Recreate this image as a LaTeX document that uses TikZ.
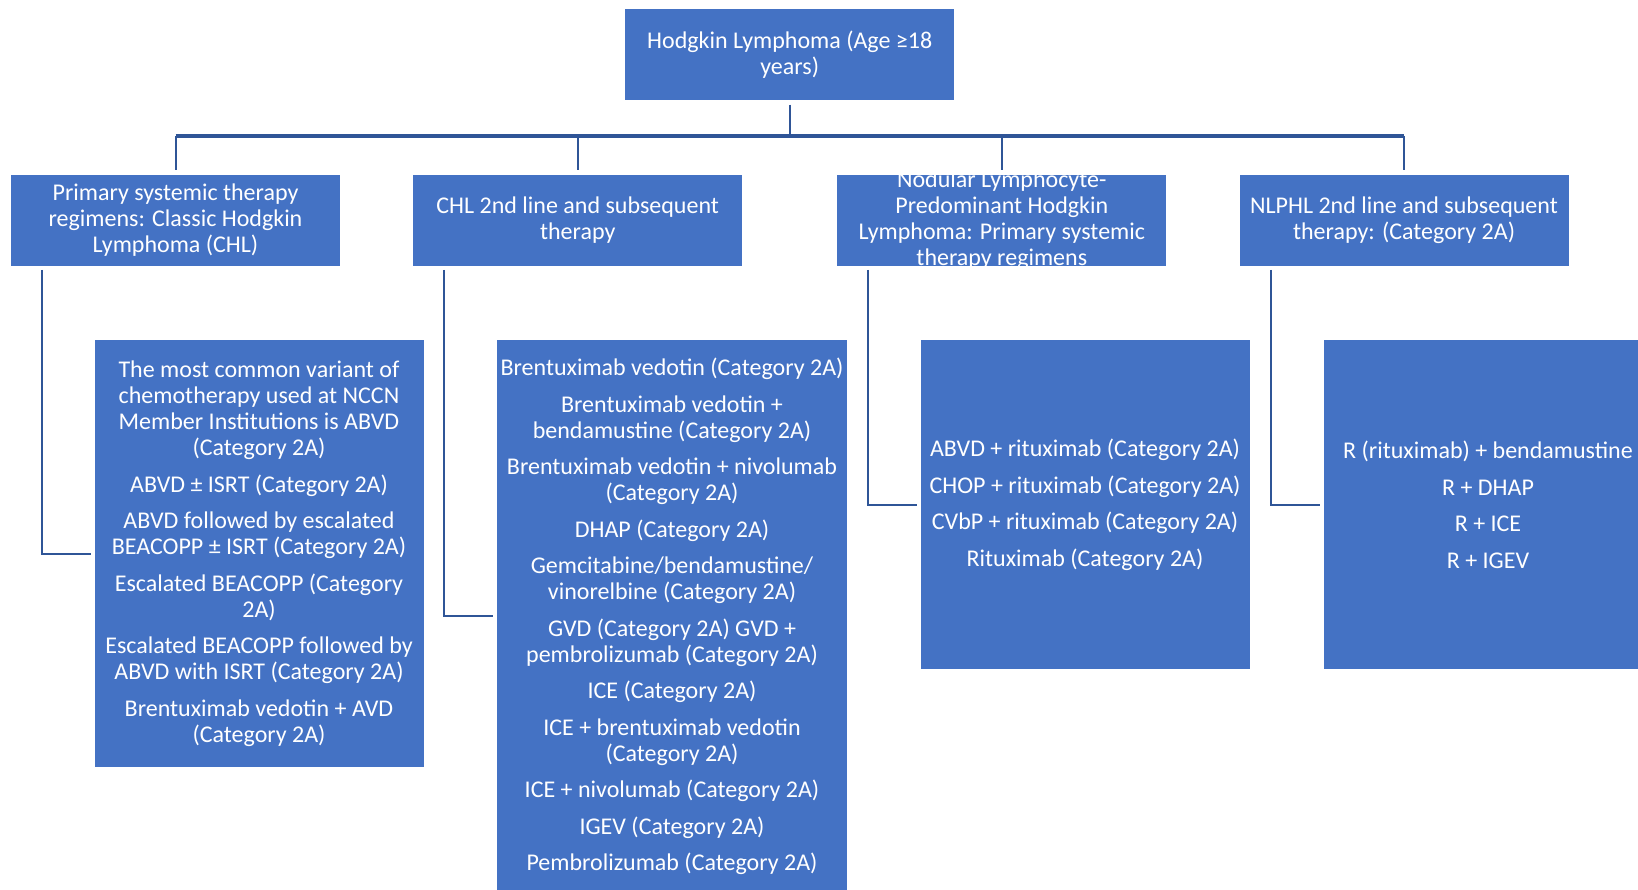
\documentclass[tikz,border=0pt]{standalone}
\usepackage{fontspec}
\setmainfont{Carlito}
\usetikzlibrary{calc}
\definecolor{boxblue}{HTML}{4472C4}
\definecolor{linkblue}{HTML}{2F5597}
\tikzset{
  box/.style={rectangle, fill=boxblue, draw=white, line width=0.8pt, text=white, align=center, inner sep=0pt, font=\fontsize{24}{26}\selectfont},
  txt/.style={text=white, align=center, inner sep=0pt, font=\fontsize{24}{26}\selectfont},
  hdr/.style={minimum width=330pt, minimum height=92pt},
  conn/.style={draw=linkblue, line width=2pt},
  busline/.style={draw=linkblue, line width=3.2pt},
}
\begin{document}
\begin{tikzpicture}[x=1pt, y=-1pt]
\fill[white] (0,0) rectangle (1638,890);
\useasboundingbox (0,0) rectangle (1638,890);
% top
\node[box, hdr] (top) at (789.7,54.3) {Hodgkin Lymphoma (Age ≥18\\years)};
% level 2
\node[box, hdr] (b1) at (175.5,220.4) {Primary systemic therapy\\regimens: Classic Hodgkin\\Lymphoma (CHL)};
\node[box, hdr] (b2) at (577.7,220.4) {CHL 2nd line and subsequent\\therapy};
\node[box, hdr] (b3) at (1001.8,220.4) {};
\node[txt] (b3t) at (b3.center) {Nodular Lymphocyte-\\Predominant Hodgkin\\Lymphoma: Primary systemic\\therapy regimens};
\node[box, hdr] (b4) at (1404,220.4) {NLPHL 2nd line and subsequent\\therapy: (Category 2A)};
% level 3
\node[box, minimum width=330pt, minimum height=428pt] (c1) at (259,553.6) {The most common variant of\\chemotherapy used at NCCN\\Member Institutions is ABVD\\(Category 2A)\\[10.5pt]
ABVD ± ISRT (Category 2A)\\[10.5pt]
ABVD followed by escalated\\BEACOPP ± ISRT (Category 2A)\\[10.5pt]
Escalated BEACOPP (Category\\2A)\\[10.5pt]
Escalated BEACOPP followed by\\ABVD with ISRT (Category 2A)\\[10.5pt]
Brentuximab vedotin + AVD\\(Category 2A)};
\node[box, minimum width=351pt, minimum height=553.5pt] (c2) at (672,616.3) {Brentuximab vedotin (Category 2A)\\[10.5pt]
Brentuximab vedotin +\\bendamustine (Category 2A)\\[10.5pt]
Brentuximab vedotin + nivolumab\\(Category 2A)\\[10.5pt]
DHAP (Category 2A)\\[10.5pt]
Gemcitabine/bendamustine/\\vinorelbine (Category 2A)\\[10.5pt]
GVD (Category 2A) GVD +\\pembrolizumab (Category 2A)\\[10.5pt]
ICE (Category 2A)\\[10.5pt]
ICE + brentuximab vedotin\\(Category 2A)\\[10.5pt]
ICE + nivolumab (Category 2A)\\[10.5pt]
IGEV (Category 2A)\\[10.5pt]
Pembrolizumab (Category 2A)};
\node[box, minimum width=330pt, minimum height=330pt] (c3) at (1085,504.6) {ABVD + rituximab (Category 2A)\\[10.5pt]
CHOP + rituximab (Category 2A)\\[10.5pt]
CVbP + rituximab (Category 2A)\\[10.5pt]
Rituximab (Category 2A)};
\node[box, minimum width=330pt, minimum height=330pt] (c4) at (1488,504.6) {R (rituximab) + bendamustine\\[10.5pt]
R + DHAP\\[10.5pt]
R + ICE\\[10.5pt]
R + IGEV};
% connectors
\coordinate (bus) at (789.7,136);
\draw[conn] ([yshift=-4pt]top.south) -- (top.south |- bus);
\draw[busline] (b1.north |- bus) -- (b4.north |- bus);
\foreach \b in {b1,b2,b3,b4} {
  \draw[conn] (\b.north |- bus) -- ([yshift=4pt]\b.north);
}
\draw[conn] ([xshift=32pt,yshift=-3pt]b1.south west) |- ([xshift=-3pt]c1.west);
\draw[conn] ([xshift=32pt,yshift=-3pt]b2.south west) |- ([xshift=-3pt]c2.west);
\draw[conn] ([xshift=32pt,yshift=-3pt]b3.south west) |- ([xshift=-3pt]c3.west);
\draw[conn] ([xshift=32pt,yshift=-3pt]b4.south west) |- ([xshift=-3pt]c4.west);
\end{tikzpicture}
\end{document}
